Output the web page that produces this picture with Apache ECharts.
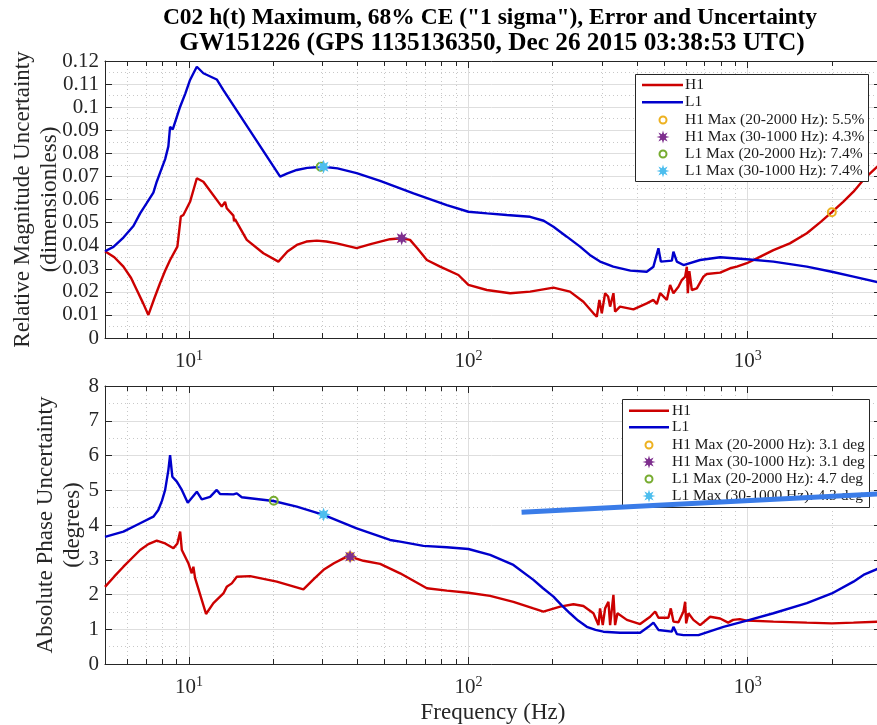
<!DOCTYPE html>
<html><head><meta charset="utf-8">
<script src="https://cdn.jsdelivr.net/npm/echarts@6/dist/echarts.min.js"></script>
<style>html,body{margin:0;padding:0;background:#fff}#c{width:877px;height:725px}</style>
</head><body><div id="c"></div>
<script>
// ---------- data ----------
const xMin = 5, xMax = 3000;
const xMinorTicks = [6,7,8,9,20,30,40,50,60,70,80,90,200,300,400,500,600,700,800,900,2000];

const titleLines = ['C02 h(t) Maximum, 68% CE ("1 sigma"), Error and Uncertainty',
                    'GW151226 (GPS 1135136350, Dec 26 2015 03:38:53 UTC)'];

const magH1Freq = [5.0,5.4,5.82,6.2,6.5,6.85,7.15,7.5,7.87,8.2,8.55,9.08,9.34,9.54,10.08,10.22,10.66,11.25,13.09,13.45,13.64,14.41,14.49,14.6,16.09,18.45,20.88,22.5,24.3,26.3,28.66,31,33.8,39.8,45,52.4,57.7,61.8,65.6,71.0,79.2,92.1,100,116.4,141.1,166.3,201.6,231,258,280.3,288.2,294.4,300.3,308.6,316.4,321.6,330.5,335.1,349,389.7,435,459.6,472.6,485.8,513.2,527.4,542,564.9,580.8,597,605.3,610.3,618,630.8,657.3,694,713.7,796.5,864.8,913.8,992.7,1078,1236,1415,1628,1830,2000,2196,2391,2625,3000];
const magH1 = [0.0376,0.0350,0.0309,0.0260,0.0208,0.0150,0.0100,0.0170,0.0237,0.0290,0.0338,0.0396,0.0526,0.0533,0.0590,0.0584,0.0692,0.0677,0.0569,0.0590,0.0562,0.0530,0.0505,0.0515,0.0425,0.0367,0.0331,0.0375,0.0403,0.0418,0.0422,0.0418,0.0410,0.0389,0.0408,0.0428,0.0432,0.0425,0.0389,0.0338,0.0309,0.0273,0.0230,0.0208,0.0194,0.0201,0.0218,0.0201,0.0157,0.0107,0.0092,0.0165,0.0107,0.0194,0.0180,0.0136,0.0194,0.0114,0.0136,0.0124,0.0150,0.0165,0.0147,0.0194,0.0165,0.0230,0.0194,0.0222,0.0251,0.0266,0.0309,0.0194,0.0290,0.0208,0.0215,0.0266,0.0277,0.0283,0.0302,0.0309,0.0324,0.0345,0.0381,0.0410,0.0454,0.0504,0.0545,0.0590,0.0634,0.0692,0.0757];

const magL1Freq = [5.0,5.36,5.82,6.32,6.68,7.06,7.45,7.66,7.87,8.21,8.43,8.55,8.74,9.29,9.7,10.08,10.4,10.66,11.25,12.56,13.27,21.18,22.5,24.3,26.5,30.3,34,39.8,48.3,63.6,83.7,100,116.7,137.3,166.3,186,201.6,225,251,272,296,330,380,435,459.6,479,488.6,535,542,557.5,588.8,675.5,796.5,992.7,1236,1628,2000,2391,3000];
const magL1 = [0.0376,0.0395,0.0435,0.0485,0.0540,0.0585,0.0630,0.0677,0.0715,0.0775,0.0830,0.0915,0.0904,0.1002,0.1060,0.1118,0.1150,0.1175,0.1147,0.1120,0.1074,0.0699,0.0713,0.0728,0.0737,0.0742,0.0735,0.0714,0.0681,0.0627,0.0576,0.0547,0.0540,0.0533,0.0525,0.0508,0.0482,0.0439,0.0396,0.0360,0.0331,0.0309,0.0292,0.0287,0.0309,0.0389,0.0331,0.0335,0.0374,0.0331,0.0316,0.0338,0.0350,0.0341,0.0331,0.0309,0.0287,0.0266,0.0239];

const phaseH1Freq = [5.0,5.4,5.82,6.25,6.68,7.15,7.66,8.21,8.79,9.08,9.29,9.42,9.94,10.22,10.36,10.51,11.50,12.22,13.27,13.64,14.22,14.82,16.54,20.61,25.66,28,30.3,33,35.68,37.7,42.09,48.3,56.95,71.0,83.7,100,119.6,144.9,170.9,185.5,213,237.7,258,280.3,292.1,296,302.7,308.6,317.2,321.6,330.5,335.1,341.7,369.2,411.9,447.4,466.2,479,520,530.4,542,564.9,588.8,597,602,613.5,639,675.5,733.5,796.5,850.8,886.6,936.8,992.7,1236,1628,2000,2391,3000];
const phaseH1 = [2.22,2.52,2.80,3.05,3.28,3.45,3.55,3.47,3.33,3.47,3.81,3.28,2.90,2.61,2.80,2.47,1.44,1.75,2.03,2.22,2.32,2.51,2.53,2.37,2.15,2.45,2.71,2.90,3.04,3.09,2.97,2.88,2.61,2.18,2.11,2.05,1.96,1.79,1.60,1.51,1.65,1.72,1.67,1.46,1.12,1.60,1.12,1.60,1.79,1.12,1.99,1.12,1.46,1.27,1.15,1.36,1.51,1.33,1.33,1.60,1.22,1.20,1.51,1.79,1.17,1.46,1.27,1.12,1.36,1.31,1.19,1.27,1.29,1.25,1.22,1.19,1.17,1.19,1.22];

const phaseL1Freq = [5.0,5.82,6.68,7.45,7.76,8.0,8.21,8.43,8.55,8.71,9.04,9.42,9.89,10.66,11.10,11.89,12.56,12.91,14.41,14.82,15.44,20.04,24.3,30.3,39.8,52.4,56.95,69.0,83.7,100,119.6,144.9,170.9,185,201.6,215,231,247,265.4,285,304.2,349,411.9,441.1,459.6,479,485.8,535,542,557.5,588.8,666.2,818.5,992.7,1236,1628,2000,2391,2620,3000];
const phaseL1 = [3.66,3.81,4.05,4.24,4.43,4.70,5.01,5.58,6.01,5.39,5.25,5.01,4.64,4.96,4.74,4.81,5.01,4.89,4.88,4.91,4.80,4.69,4.53,4.29,3.90,3.57,3.52,3.40,3.36,3.31,3.14,2.85,2.42,2.18,1.94,1.70,1.46,1.25,1.07,0.98,0.93,0.90,0.90,1.07,1.19,0.98,0.93,0.93,1.07,0.86,0.83,0.83,1.07,1.25,1.46,1.75,2.03,2.37,2.58,2.78];

// max markers [freq, value]
const magMarkers = [[2000, 0.0545], [57.7, 0.0432], [29.6, 0.0742], [30.3, 0.0742]];
const magMarkerLabels = ['H1 Max (20-2000 Hz): 5.5%', 'H1 Max (30-1000 Hz): 4.3%', 'L1 Max (20-2000 Hz): 7.4%', 'L1 Max (30-1000 Hz): 7.4%'];
const phaseMarkers = [[37.7, 3.09], [37.7, 3.09], [20.1, 4.70], [30.3, 4.30]];
const phaseMarkerLabels = ['H1 Max (20-2000 Hz): 3.1 deg', 'H1 Max (30-1000 Hz): 3.1 deg', 'L1 Max (20-2000 Hz): 4.7 deg', 'L1 Max (30-1000 Hz): 4.3 deg'];

// stray thick line in lower panel
const strayFreq = [155, 3000];
const strayVal = [4.37, 4.895];

// ---------- styles ----------
const FONT = 'Liberation Serif';
const AX = '#262626';
const RED = '#cc0000', BLUE = '#0000cc';
const MK_COLORS = ['#EDB120', '#7E2F8E', '#77AC30', '#4DBEEE'];
const MK_SHAPES = ['circle', 'star', 'circle', 'star'];
const STAR = 'path://M50,0L59.6,27L85.36,14.64L73,40.4L100,50L73,59.6L85.36,85.36L59.6,73L50,100L40.4,73L14.64,85.36L27,59.6L0,50L27,40.4L14.64,14.64L40.4,27Z';

const zip = (a, b) => a.map((v, i) => [v, b[i]]);

const gridsDef = [
  {left: 105, top: 61, width: 776, height: 277, containLabel: false, outerBoundsMode: 'none'},
  {left: 105, top: 386, width: 776, height: 278, containLabel: false, outerBoundsMode: 'none'}
];

function xLabelFmt(v) {
  const e = Math.log10(v);
  if (Math.abs(e - Math.round(e)) < 1e-6) return '10{sup|' + Math.round(e) + '}';
  return '';
}

function xAxes(gi, name) {
  const base = {type: 'log', logBase: 10, min: xMin, max: xMax, gridIndex: gi};
  return [
    Object.assign({}, base, {
      position: 'bottom',
      axisLine: {show: true, onZero: false, lineStyle: {color: AX, width: 1}},
      axisTick: {show: true, inside: true, length: 7, lineStyle: {color: AX}},
      axisLabel: {show: true, formatter: xLabelFmt, margin: 11, color: AX,
        fontFamily: FONT, fontSize: 21,
        rich: {sup: {fontSize: 14, fontFamily: FONT, color: AX, verticalAlign: 'top', padding: [0, 0, 10, 0]}}},
      splitLine: {show: true, lineStyle: {color: '#dedede', width: 1}},
      name: name, nameLocation: 'middle', nameGap: 37, nameMoveOverlap: false,
      nameTextStyle: {fontFamily: FONT, fontSize: 23, color: AX}
    }),
    Object.assign({}, base, {
      position: 'top',
      axisLine: {show: true, onZero: false, lineStyle: {color: AX, width: 1}},
      axisTick: {show: true, inside: true, length: 7, lineStyle: {color: AX}},
      axisLabel: {show: false}, splitLine: {show: false}
    })
  ];
}

function yAxes(gi, max, interval, name, fmt, gap) {
  const base = {type: 'value', gridIndex: gi, min: 0, max: max, interval: interval};
  return [
    Object.assign({}, base, {
      position: 'left',
      axisLine: {show: true, onZero: false, lineStyle: {color: AX, width: 1}},
      axisTick: {show: true, inside: true, length: 7, lineStyle: {color: AX}},
      axisLabel: {show: true, formatter: fmt, margin: 6, color: AX, fontFamily: FONT, fontSize: 21},
      splitLine: {show: true, lineStyle: {color: '#dedede', width: 1}},
      minorTick: {show: false, splitNumber: 2},
      minorSplitLine: {show: true, lineStyle: {color: '#c8c8c8', width: 1, type: [1, 3]}},
      name: name, nameLocation: 'middle', nameGap: gap, nameMoveOverlap: false,
      nameTextStyle: {fontFamily: FONT, fontSize: 23, lineHeight: 27, color: AX}
    }),
    Object.assign({}, base, {
      position: 'right',
      axisLine: {show: true, onZero: false, lineStyle: {color: AX, width: 1}},
      axisTick: {show: true, inside: true, length: 7, lineStyle: {color: AX}},
      axisLabel: {show: false}, splitLine: {show: false}
    })
  ];
}

function minorSeries(xi, yi) {
  return {
    type: 'custom', xAxisIndex: xi, yAxisIndex: yi, z: 1, silent: true,
    data: xMinorTicks.map(v => [v]),
    encode: {x: 0},
    renderItem: function (params, api) {
      const cs = params.coordSys;
      const p = api.coord([api.value(0), 1]);
      const x = Math.round(p[0]) + 0.5;
      const yT = cs.y, yB = cs.y + cs.height;
      return {type: 'group', children: [
        {type: 'line', shape: {x1: x, y1: yB, x2: x, y2: yT}, style: {stroke: '#c8c8c8', lineWidth: 1, lineDash: [1, 3]}},
        {type: 'line', shape: {x1: x, y1: yB, x2: x, y2: yB - 5}, style: {stroke: AX, lineWidth: 1}},
        {type: 'line', shape: {x1: x, y1: yT, x2: x, y2: yT + 5}, style: {stroke: AX, lineWidth: 1}}
      ]};
    }
  };
}

function curve(name, data, color, xi, yi) {
  return {type: 'line', name: name, data: data, xAxisIndex: xi, yAxisIndex: yi,
    symbol: 'none', showSymbol: false, smooth: false, z: 3,
    lineStyle: {color: color, width: 2.4}, itemStyle: {color: color}};
}

function markerSeries(pts, labels, xi, yi) {
  return pts.map((p, i) => ({
    type: 'scatter', name: labels[i], data: [p], xAxisIndex: xi, yAxisIndex: yi, z: 5,
    symbol: MK_SHAPES[i] === 'star' ? STAR : 'circle',
    symbolSize: MK_SHAPES[i] === 'star' ? 14 : 8,
    itemStyle: MK_SHAPES[i] === 'star'
      ? {color: MK_COLORS[i], borderWidth: 0, opacity: 1}
      : {color: '#ffffff00', borderColor: MK_COLORS[i], borderWidth: 2, opacity: 1}
  }));
}

function starPoints(cx, cy, R) {
  const pts = [];
  for (let k = 0; k < 16; k++) {
    const a = -Math.PI / 2 + k * Math.PI / 8;
    const r = k % 2 === 0 ? R : R * 0.45;
    pts.push([cx + r * Math.cos(a), cy + r * Math.sin(a)]);
  }
  return pts;
}

function legendEls(box, rowY, lineX0, lineX1, markX, textX, labels) {
  const els = [];
  els.push({type: 'rect', z: 50, shape: {x: box.x + 0.5, y: box.y + 0.5, width: box.w, height: box.h},
    style: {fill: '#fff', stroke: AX, lineWidth: 1}});
  const entries = [{k: 'line', c: RED, t: 'H1'}, {k: 'line', c: BLUE, t: 'L1'}]
    .concat(labels.map((t, i) => ({k: MK_SHAPES[i], c: MK_COLORS[i], t: t})));
  entries.forEach((e, i) => {
    const y = rowY[i];
    if (e.k === 'line') {
      els.push({type: 'line', z: 51, shape: {x1: lineX0, y1: y, x2: lineX1, y2: y}, style: {stroke: e.c, lineWidth: 2.4}});
    } else if (e.k === 'circle') {
      els.push({type: 'circle', z: 51, shape: {cx: markX, cy: y, r: 3.5}, style: {fill: 'none', stroke: e.c, lineWidth: 2}});
    } else {
      els.push({type: 'polygon', z: 51, shape: {points: starPoints(markX, y, 6.5)}, style: {fill: e.c}});
    }
    els.push({type: 'text', z: 51, x: textX, y: y,
      style: {text: e.t, fontFamily: FONT, fontSize: 15.5, fill: '#1a1a1a', align: 'left', verticalAlign: 'middle'}});
  });
  return els;
}

const chart = echarts.init(document.getElementById('c'), null, {renderer: 'canvas'});

const magFmt = v => String(+v.toFixed(2));
const phFmt = v => String(Math.round(v));

const graphic = [
  {type: 'text', z: 50, x: 490, y: 18, style: {text: titleLines[0], fontFamily: FONT, fontSize: 23.5, fontWeight: 'bold', fill: '#000', align: 'center', verticalAlign: 'middle'}},
  {type: 'text', z: 50, x: 492, y: 43, style: {text: titleLines[1], fontFamily: FONT, fontSize: 25.3, fontWeight: 'bold', fill: '#000', align: 'center', verticalAlign: 'middle'}}
].concat(
  legendEls({x: 635, y: 74, w: 233, h: 107}, [85, 102.3, 120, 137, 154, 171], 642, 683, 663, 685, magMarkerLabels),
  legendEls({x: 622, y: 399, w: 247, h: 108}, [410.7, 427.3, 445, 462, 479, 496], 629, 669, 649, 672, phaseMarkerLabels)
);

const option = {
  animation: false,
  backgroundColor: '#ffffff',
  textStyle: {fontFamily: FONT},
  grid: gridsDef,
  xAxis: xAxes(0, '').concat(xAxes(1, 'Frequency (Hz)')),
  yAxis: yAxes(0, 0.12, 0.01, 'Relative Magnitude Uncertainty\n(dimensionless)', magFmt, 42)
    .concat(yAxes(1, 8, 1, 'Absolute Phase Uncertainty\n(degrees)', phFmt, 19)),
  graphic: graphic,
  series: [
    minorSeries(0, 0),
    minorSeries(2, 2),
    curve('H1', zip(magH1Freq, magH1), RED, 0, 0),
    curve('L1', zip(magL1Freq, magL1), BLUE, 0, 0),
    curve('H1', zip(phaseH1Freq, phaseH1), RED, 2, 2),
    curve('L1', zip(phaseL1Freq, phaseL1), BLUE, 2, 2)
  ].concat(
    markerSeries(magMarkers, magMarkerLabels, 0, 0),
    markerSeries(phaseMarkers, phaseMarkerLabels, 2, 2),
    [{type: 'line', name: 'stray', data: zip(strayFreq, strayVal), xAxisIndex: 2, yAxisIndex: 2,
      symbol: 'none', z: 100, lineStyle: {color: '#3a7ce8', width: 5}, clip: false}]
  )
};
chart.setOption(option);
</script>
</body></html>
